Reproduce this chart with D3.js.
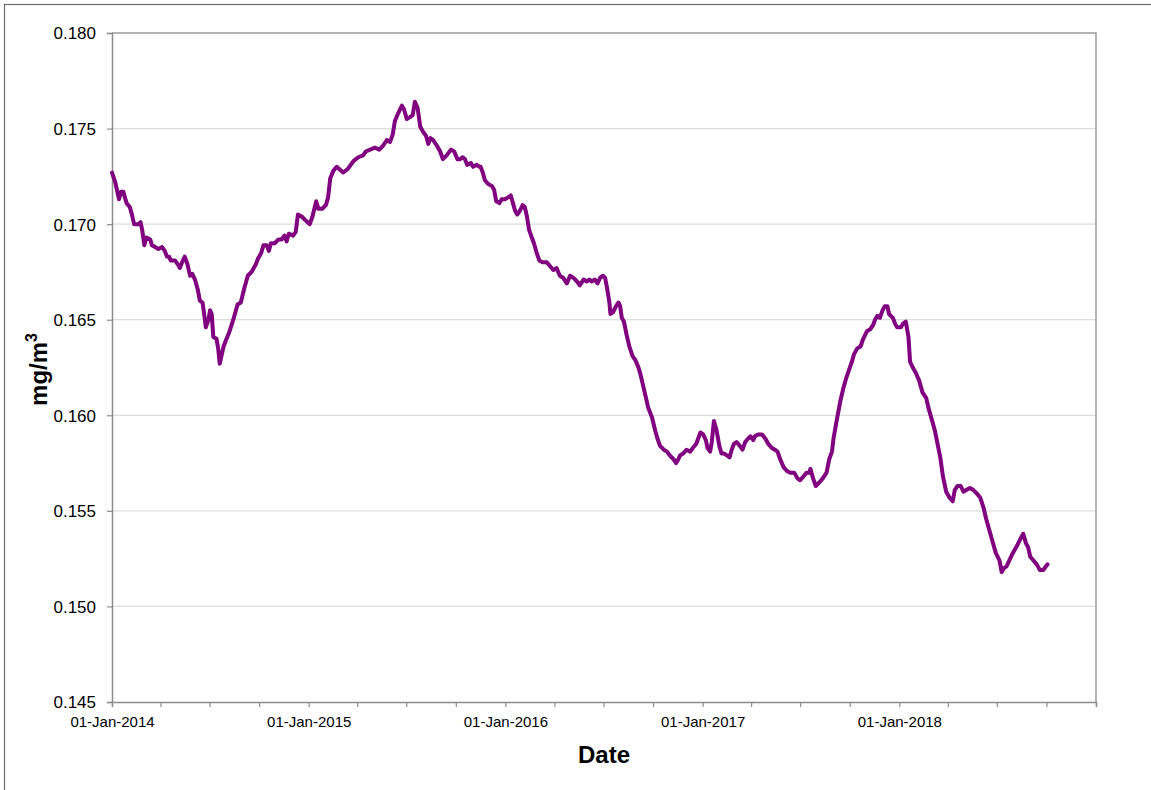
<!DOCTYPE html>
<html>
<head>
<meta charset="utf-8">
<script src="https://cdn.jsdelivr.net/npm/d3@7"></script>
<style>
body { margin: 0; background: #fff; }
text { font-family: "Liberation Sans", Arial, sans-serif; fill: #000; }
</style>
</head>
<body>
<svg id="chart" width="1151" height="790"></svg>
<script>
// series: days since 01-Jan-2014 and concentration (mg/m3)
const startDate = new Date(2014, 0, 1);
const endDate = new Date(2019, 0, 1);

const dayOffsets = [
  0, 6, 13, 17, 21, 27, 33, 37, 41, 49, 53, 56, 60, 64, 71, 74, 80, 86, 93, 98,
  102, 106, 109, 117, 122, 126, 130, 135, 140, 145, 149, 154, 159, 163, 168, 171, 174, 179, 182, 185,
  188, 194, 197, 200, 207, 211, 217, 225, 233, 239, 246, 252, 259, 267, 271, 277, 281, 287, 291, 295,
  302, 309, 315, 320, 324, 328, 336, 341, 345, 352, 359, 367, 372, 379, 383, 390, 397, 401, 405, 411,
  417, 421, 429, 438, 448, 457, 466, 471, 479, 488, 496, 503, 510, 516, 521, 525, 531, 538, 542, 547,
  553, 558, 562, 567, 572, 578, 583, 587, 591, 596, 603, 609, 614, 621, 629, 635, 641, 646, 651, 655,
  659, 666, 670, 677, 682, 684, 688, 692, 698, 705, 709, 713, 719, 723, 729, 735, 740, 744, 748, 752,
  757, 762, 766, 770, 774, 779, 783, 788, 793, 799, 807, 813, 819, 825, 831, 837, 844, 850, 856, 863,
  868, 875, 881, 886, 890, 896, 901, 906, 911, 915, 919, 923, 925, 930, 935, 940, 943, 946, 950, 955,
  960, 966, 971, 977, 981, 986, 991, 995, 1002, 1008, 1012, 1017, 1024, 1030, 1035, 1042, 1047, 1051, 1054, 1060,
  1066, 1073, 1078, 1084, 1088, 1092, 1097, 1102, 1105, 1110, 1113, 1117, 1122, 1127, 1131, 1136, 1141, 1146, 1150, 1154,
  1159, 1165, 1170, 1175, 1181, 1185, 1190, 1193, 1199, 1206, 1212, 1218, 1224, 1230, 1235, 1240, 1246, 1252, 1258, 1266,
  1272, 1277, 1283, 1289, 1294, 1296, 1301, 1306, 1313, 1319, 1326, 1331, 1336, 1339, 1344, 1348, 1352, 1357, 1362, 1368,
  1373, 1377, 1383, 1389, 1394, 1401, 1407, 1412, 1416, 1420, 1425, 1430, 1434, 1439, 1442, 1449, 1453, 1457, 1464, 1468,
  1473, 1478, 1481, 1486, 1492, 1498, 1504, 1511, 1515, 1521, 1527, 1532, 1537, 1542, 1548, 1554, 1560, 1564, 1569, 1575,
  1580, 1586, 1592, 1598, 1605, 1611, 1617, 1622, 1628, 1634, 1640, 1647, 1651, 1655, 1660, 1665, 1670, 1676, 1680, 1685,
  1691, 1696, 1700, 1704, 1710, 1716, 1722, 1728, 1733, 1736
];

const values = [
  0.1727, 0.1722, 0.1713, 0.1717, 0.1717, 0.1711, 0.1709, 0.1705, 0.1700, 0.1700, 0.1701, 0.1697, 0.1689, 0.1693, 0.1692, 0.1689, 0.1688, 0.1687, 0.1688, 0.1686,
  0.1683, 0.1683, 0.1681, 0.1681, 0.1679, 0.1677, 0.1680, 0.1683, 0.1679, 0.1673, 0.1674, 0.1671, 0.1666, 0.1660, 0.1659, 0.1653, 0.1646, 0.1650, 0.1655, 0.1653,
  0.1641, 0.1640, 0.1635, 0.1627, 0.1636, 0.1639, 0.1643, 0.1650, 0.1658, 0.1659, 0.1667, 0.1673, 0.1675, 0.1679, 0.1682, 0.1685, 0.1689, 0.1689, 0.1686, 0.1690,
  0.1690, 0.1692, 0.1692, 0.1694, 0.1691, 0.1695, 0.1694, 0.1696, 0.1705, 0.1704, 0.1702, 0.1700, 0.1704, 0.1712, 0.1708, 0.1708, 0.1710, 0.1714, 0.1724, 0.1728,
  0.1730, 0.1729, 0.1727, 0.1729, 0.1733, 0.1735, 0.1736, 0.1738, 0.1739, 0.1740, 0.1739, 0.1741, 0.1744, 0.1743, 0.1747, 0.1754, 0.1758, 0.1762, 0.1760, 0.1755,
  0.1756, 0.1757, 0.1764, 0.1761, 0.1751, 0.1748, 0.1746, 0.1742, 0.1745, 0.1744, 0.1741, 0.1738, 0.1734, 0.1736, 0.1739, 0.1738, 0.1734, 0.1734, 0.1735, 0.1734,
  0.1731, 0.1732, 0.1730, 0.1731, 0.1730, 0.1730, 0.1727, 0.1723, 0.1721, 0.1720, 0.1718, 0.1712, 0.1711, 0.1713, 0.1713, 0.1714, 0.1715, 0.1711, 0.1707, 0.1705,
  0.1707, 0.1710, 0.1709, 0.1704, 0.1697, 0.1693, 0.1690, 0.1685, 0.1681, 0.1680, 0.1680, 0.1678, 0.1676, 0.1677, 0.1673, 0.1672, 0.1669, 0.1673, 0.1672, 0.1670,
  0.1668, 0.1671, 0.1670, 0.1671, 0.1670, 0.1671, 0.1669, 0.1672, 0.1673, 0.1672, 0.1666, 0.1659, 0.1653, 0.1654, 0.1657, 0.1659, 0.1657, 0.1651, 0.1649, 0.1642,
  0.1636, 0.1631, 0.1629, 0.1625, 0.1621, 0.1615, 0.1609, 0.1604, 0.1599, 0.1592, 0.1588, 0.1584, 0.1582, 0.1581, 0.1579, 0.1577, 0.1575, 0.1577, 0.1579, 0.1580,
  0.1582, 0.1581, 0.1583, 0.1585, 0.1588, 0.1591, 0.1590, 0.1587, 0.1583, 0.1581, 0.1586, 0.1597, 0.1592, 0.1584, 0.1580, 0.1580, 0.1579, 0.1578, 0.1582, 0.1585,
  0.1586, 0.1584, 0.1582, 0.1586, 0.1588, 0.1589, 0.1587, 0.1589, 0.1590, 0.1590, 0.1588, 0.1585, 0.1583, 0.1582, 0.1581, 0.1577, 0.1573, 0.1571, 0.1570, 0.1570,
  0.1567, 0.1566, 0.1568, 0.1570, 0.1570, 0.1572, 0.1567, 0.1563, 0.1565, 0.1567, 0.1570, 0.1577, 0.1581, 0.1588, 0.1596, 0.1602, 0.1608, 0.1614, 0.1619, 0.1624,
  0.1628, 0.1632, 0.1635, 0.1636, 0.1640, 0.1644, 0.1645, 0.1647, 0.1650, 0.1652, 0.1651, 0.1655, 0.1657, 0.1657, 0.1653, 0.1651, 0.1648, 0.1646, 0.1646, 0.1648,
  0.1649, 0.1641, 0.1628, 0.1625, 0.1622, 0.1618, 0.1612, 0.1609, 0.1604, 0.1598, 0.1592, 0.1585, 0.1578, 0.1568, 0.1560, 0.1557, 0.1555, 0.1561, 0.1563, 0.1563,
  0.1560, 0.1561, 0.1562, 0.1561, 0.1559, 0.1557, 0.1552, 0.1546, 0.1540, 0.1534, 0.1528, 0.1524, 0.1518, 0.1520, 0.1521, 0.1524, 0.1527, 0.1530, 0.1532, 0.1535,
  0.1538, 0.1533, 0.1531, 0.1526, 0.1524, 0.1522, 0.1519, 0.1519, 0.1521, 0.1522
];

const yTicks = [0.145, 0.150, 0.155, 0.160, 0.165, 0.170, 0.175, 0.180];
const yearLabels = [2014, 2015, 2016, 2017, 2018];

const plot = {left: 112, right: 1096, top: 33, bottom: 702};

const svg = d3.select('#chart');

// outer frame, runs off the right and bottom edges
svg.append('rect')
    .attr('x', 4.5).attr('y', 4.5)
    .attr('width', 1200).attr('height', 900)
    .attr('fill', 'none').attr('stroke', '#6b6b6b').attr('stroke-width', 1.2);

const x = d3.scaleTime().domain([startDate, endDate]).range([plot.left, plot.right]);
const y = d3.scaleLinear().domain([0.145, 0.180]).range([plot.bottom, plot.top]);

const data = dayOffsets.map((d, i) => ({date: d3.timeDay.offset(startDate, d), value: values[i]}));

// gridlines
svg.append('g')
    .selectAll('line')
    .data(yTicks.slice(1, -1))
    .join('line')
    .attr('x1', plot.left).attr('x2', plot.right)
    .attr('y1', d => y(d)).attr('y2', d => y(d))
    .attr('stroke', '#dcdcdc').attr('stroke-width', 1.3);

// plot frame (top + right)
svg.append('path')
    .attr('d', `M${plot.left},${plot.top}H${plot.right}V${plot.bottom}`)
    .attr('fill', 'none').attr('stroke', '#9a9a9a').attr('stroke-width', 1.5);

// y axis
const yAxis = svg.append('g')
    .attr('transform', `translate(${plot.left},0)`)
    .call(d3.axisLeft(y).tickValues(yTicks).tickFormat(d3.format('.3f')).tickSize(5).tickPadding(11));
yAxis.select('.domain').attr('stroke', '#8c8c8c').attr('stroke-width', 1.5);
yAxis.selectAll('.tick line').attr('stroke', '#8c8c8c').attr('stroke-width', 1.2);
yAxis.selectAll('.tick text').attr('font-size', 17).attr('dy', '0.35em').attr('fill', '#000');

// x axis, quarterly ticks, labels on each January
const fmt = d3.timeFormat('%d-%b-%Y');
const xAxis = svg.append('g')
    .attr('transform', `translate(0,${plot.bottom})`)
    .call(d3.axisBottom(x)
        .ticks(d3.timeMonth.every(3))
        .tickSize(5)
        .tickPadding(9)
        .tickFormat(d => (d.getMonth() === 0 && yearLabels.includes(d.getFullYear())) ? fmt(d) : ''));
xAxis.select('.domain').attr('stroke', '#8c8c8c').attr('stroke-width', 1.5);
xAxis.selectAll('.tick line').attr('stroke', '#8c8c8c').attr('stroke-width', 1.2);
xAxis.selectAll('.tick text').attr('font-size', 15).attr('fill', '#000');

// series line
const line = d3.line()
    .x(d => x(d.date))
    .y(d => y(d.value));

svg.append('path')
    .datum(data)
    .attr('d', line)
    .attr('fill', 'none')
    .attr('stroke', '#800080')
    .attr('stroke-width', 4)
    .attr('stroke-linejoin', 'round')
    .attr('stroke-linecap', 'round');

// axis titles
svg.append('text')
    .attr('x', (plot.left + plot.right) / 2)
    .attr('y', 763)
    .attr('text-anchor', 'middle')
    .attr('font-size', 24)
    .attr('font-weight', 'bold')
    .text('Date');

const yTitle = svg.append('text')
    .attr('transform', `translate(47,${(plot.top + plot.bottom) / 2 + 2}) rotate(-90)`)
    .attr('text-anchor', 'middle')
    .attr('font-size', 24)
    .attr('font-weight', 'bold');
yTitle.append('tspan').text('mg/m');
yTitle.append('tspan').attr('font-size', 16).attr('dy', '-0.6em').text('3');
</script>
</body>
</html>
